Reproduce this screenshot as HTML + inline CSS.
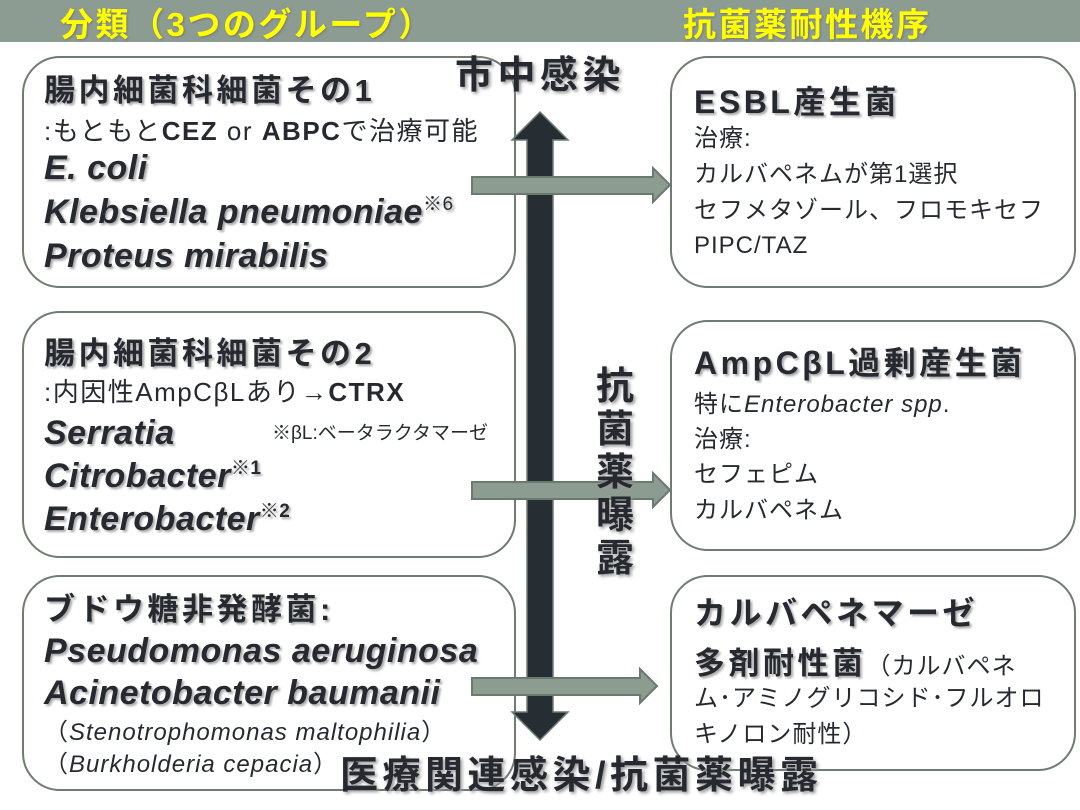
<!DOCTYPE html>
<html><head><meta charset="utf-8"><style>
body{margin:0;width:1080px;height:810px;position:relative;background:#fff;overflow:hidden;font-family:"Liberation Sans","Noto Sans CJK JP",sans-serif;color:#262a30}
.band{position:absolute;left:0;top:0;width:1080px;height:42px;background:#8d9c92}
.t{position:absolute;white-space:nowrap;line-height:1}
.y{color:#ffff00;font-weight:bold;font-size:33px;letter-spacing:2.5px;text-shadow:1px 1px 2px #777}
.box{position:absolute;border:2.5px solid #6e7c71;border-radius:38px;box-sizing:border-box;background:transparent}
.h{font-weight:bold;font-size:31px;letter-spacing:3.5px;text-shadow:2px 2px 2px #aaa}
.bi{font-weight:bold;font-style:italic;font-size:34px;letter-spacing:0.5px;text-shadow:2px 2px 2px #aaa}
.n{font-size:24px;letter-spacing:1px}
.s{font-size:26px;letter-spacing:1.5px}
.big{font-weight:bold;font-size:38px;letter-spacing:4.5px;text-shadow:2px 2px 3px #999}
sup{font-size:19px;vertical-align:13px;font-weight:normal;font-style:normal}
</style></head><body>
<div class="band"></div>
<div class="t y" style="left:60px;top:8px">分類（3つのグループ）</div>
<div class="t y" style="left:683px;top:8px">抗菌薬耐性機序</div>

<div class="box" style="left:22px;top:56px;width:494px;height:232px"></div>
<div class="box" style="left:22px;top:311px;width:494px;height:247px"></div>
<div class="box" style="left:22px;top:575px;width:494px;height:216px"></div>
<div class="box" style="left:670px;top:56px;width:406px;height:232px"></div>
<div class="box" style="left:670px;top:320px;width:406px;height:231px"></div>
<div class="box" style="left:670px;top:575px;width:406px;height:196px"></div>

<svg style="position:absolute;left:0;top:0" width="1080" height="810">
<polygon points="540,112 568,140 553,140 553,712 568,712 540,740 512,712 527,712 527,140 512,140" fill="#262d33" stroke="#6e7c71" stroke-width="1.5"/>
<g fill="#8d9c90" stroke="#6b7a6f" stroke-width="2">
<polygon points="472,177 653,177 653,168 670,185 653,202 653,194 472,194"/>
<polygon points="472,482 653,482 653,473 670,490 653,507 653,499 472,499"/>
<polygon points="472,678 640,678 640,669 657,686 640,703 640,695 472,695"/>
</g>
</svg>

<div class="t h" style="left:44px;top:75px">腸内細菌科細菌その1</div>
<div class="t s" style="left:44px;top:118px">:もともと<b>CEZ</b> or <b>ABPC</b>で治療可能</div>
<div class="t bi" style="left:44px;top:151px">E. coli</div>
<div class="t bi" style="left:44px;top:195px">Klebsiella pneumoniae<sup>※6</sup></div>
<div class="t bi" style="left:44px;top:239px">Proteus mirabilis</div>

<div class="t h" style="left:44px;top:338px">腸内細菌科細菌その2</div>
<div class="t s" style="left:44px;top:379px">:内因性AmpCβLあり→<b>CTRX</b></div>
<div class="t bi" style="left:44px;top:416px">Serratia</div>
<div class="t" style="left:272px;top:424px;font-size:19px">※βL:ベータラクタマーゼ</div>
<div class="t bi" style="left:44px;top:459px">Citrobacter<sup style="font-weight:bold">※1</sup></div>
<div class="t bi" style="left:44px;top:502px">Enterobacter<sup style="font-weight:bold">※2</sup></div>

<div class="t h" style="left:44px;top:594px">ブドウ糖非発酵菌:</div>
<div class="t bi" style="left:44px;top:634px">Pseudomonas aeruginosa</div>
<div class="t bi" style="left:44px;top:676px">Acinetobacter baumanii</div>
<div class="t n" style="left:44px;top:721px">（<i>Stenotrophomonas maltophilia</i>）</div>
<div class="t n" style="left:44px;top:753px">（<i>Burkholderia cepacia</i>）</div>

<div class="t h" style="left:694px;top:86px;font-size:32px">ESBL産生菌</div>
<div class="t n" style="left:694px;top:127px">治療:</div>
<div class="t n" style="left:694px;top:163px">カルバペネムが第1選択</div>
<div class="t n" style="left:694px;top:199px">セフメタゾール、フロモキセフ</div>
<div class="t n" style="left:694px;top:234px">PIPC/TAZ</div>

<div class="t h" style="left:694px;top:347px;font-size:32px">AmpCβL過剰産生菌</div>
<div class="t n" style="left:694px;top:393px">特に<i>Enterobacter spp</i>.</div>
<div class="t n" style="left:694px;top:428px">治療:</div>
<div class="t n" style="left:694px;top:463px">セフェピム</div>
<div class="t n" style="left:694px;top:499px">カルバペネム</div>

<div class="t h" style="left:694px;top:597px;font-size:32px">カルバペネマーゼ</div>
<div class="t" style="left:694px;top:648px;font-size:24px;letter-spacing:1px"><span class="h" style="font-size:31px">多剤耐性菌</span>（カルバペネ</div>
<div class="t n" style="left:694px;top:687px">ム･アミノグリコシド･フルオロ</div>
<div class="t n" style="left:694px;top:723px">キノロン耐性）</div>

<div class="t big" style="left:455px;top:57px">市中感染</div>
<div class="t big" style="left:594px;top:366px;width:42px;line-height:43px;white-space:normal;text-align:center;letter-spacing:0">抗菌薬曝露</div>
<div class="t big" style="left:340px;top:757px">医療関連感染/抗菌薬曝露</div>
</body></html>
